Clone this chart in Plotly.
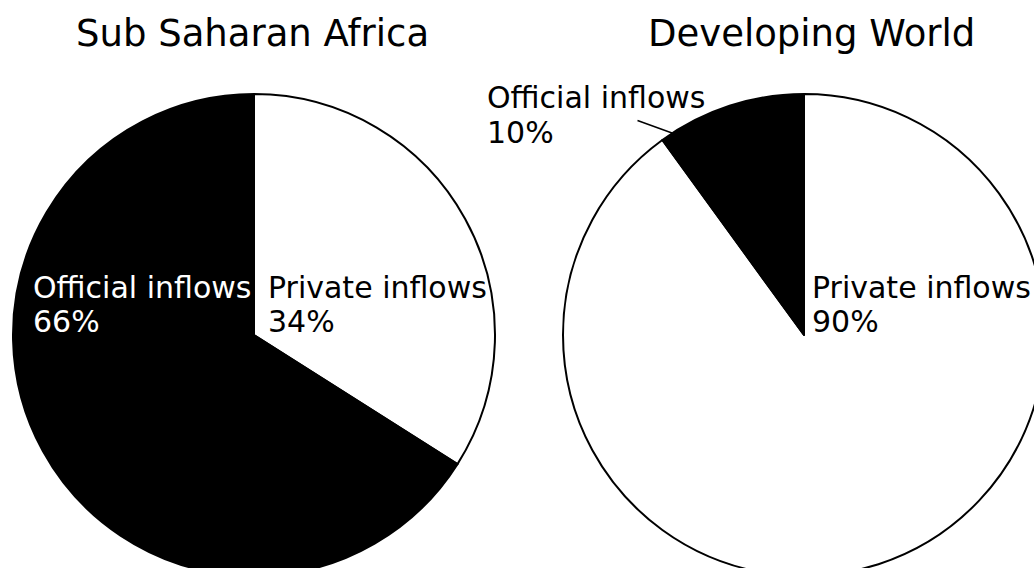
import plotly.graph_objects as go

# Data
categories = ["Private inflows", "Official inflows"]
ssa_values = [34, 66]
dev_values = [90, 10]
titles = ["Sub Saharan Africa", "Developing World"]
slice_colors = ["white", "black"]

W, H = 1050, 580
FONT = "DejaVu Sans, Verdana, sans-serif"


def px_x(x):
    return x / W


def px_y(y):
    return 1 - y / H


fig = go.Figure()
fig.add_trace(go.Pie(
    labels=categories, values=ssa_values, sort=False, direction="clockwise",
    rotation=0, textinfo="none", hoverinfo="label+percent",
    marker=dict(colors=slice_colors, line=dict(color="black", width=2)),
    domain=dict(x=[px_x(13), px_x(495)], y=[px_y(576), px_y(94)]),
    showlegend=False,
))
fig.add_trace(go.Pie(
    labels=categories, values=dev_values, sort=False, direction="clockwise",
    rotation=0, textinfo="none", hoverinfo="label+percent",
    marker=dict(colors=slice_colors, line=dict(color="black", width=2)),
    domain=dict(x=[px_x(563), px_x(1045)], y=[px_y(576), px_y(94)]),
    showlegend=False,
))

ann = []
# titles
for t, cx in zip(titles, [252, 811]):
    ann.append(dict(text=t, x=px_x(cx), y=px_y(33), xref="paper", yref="paper",
                    xanchor="center", yanchor="middle", showarrow=False,
                    font=dict(family=FONT, size=37, color="black")))


def lbl(cat, val, x, ytop1, ytop2, color):
    out = []
    for txt, yt in ((cat, ytop1), (f"{val}%", ytop2)):
        out.append(dict(text=txt, x=px_x(x), y=px_y(yt), xref="paper", yref="paper",
                        xanchor="left", yanchor="top", align="left", showarrow=False,
                        font=dict(family=FONT, size=30, color=color)))
    return out


ann += lbl(categories[1], ssa_values[1], 31, 268, 302, "white")
ann += lbl(categories[0], ssa_values[0], 266, 268, 302, "black")
ann += lbl(categories[0], dev_values[0], 810, 268, 302, "black")
ann += lbl(categories[1], dev_values[1], 485, 78, 113, "black")
# leader line for the small slice
ann.append(dict(text="", x=px_x(672), y=px_y(133), xref="paper", yref="paper",
                ax=-36, ay=-13, axref="pixel", ayref="pixel", showarrow=True,
                arrowhead=0, arrowwidth=1.5, arrowcolor="black"))

fig.update_layout(
    width=W, height=H, margin=dict(l=0, r=0, t=0, b=0),
    paper_bgcolor="white", plot_bgcolor="white",
    annotations=ann,
)

fig.write_html("out.html", config={"displayModeBar": False},
               post_script="document.body.style.margin='0';document.body.style.overflow='hidden';")
